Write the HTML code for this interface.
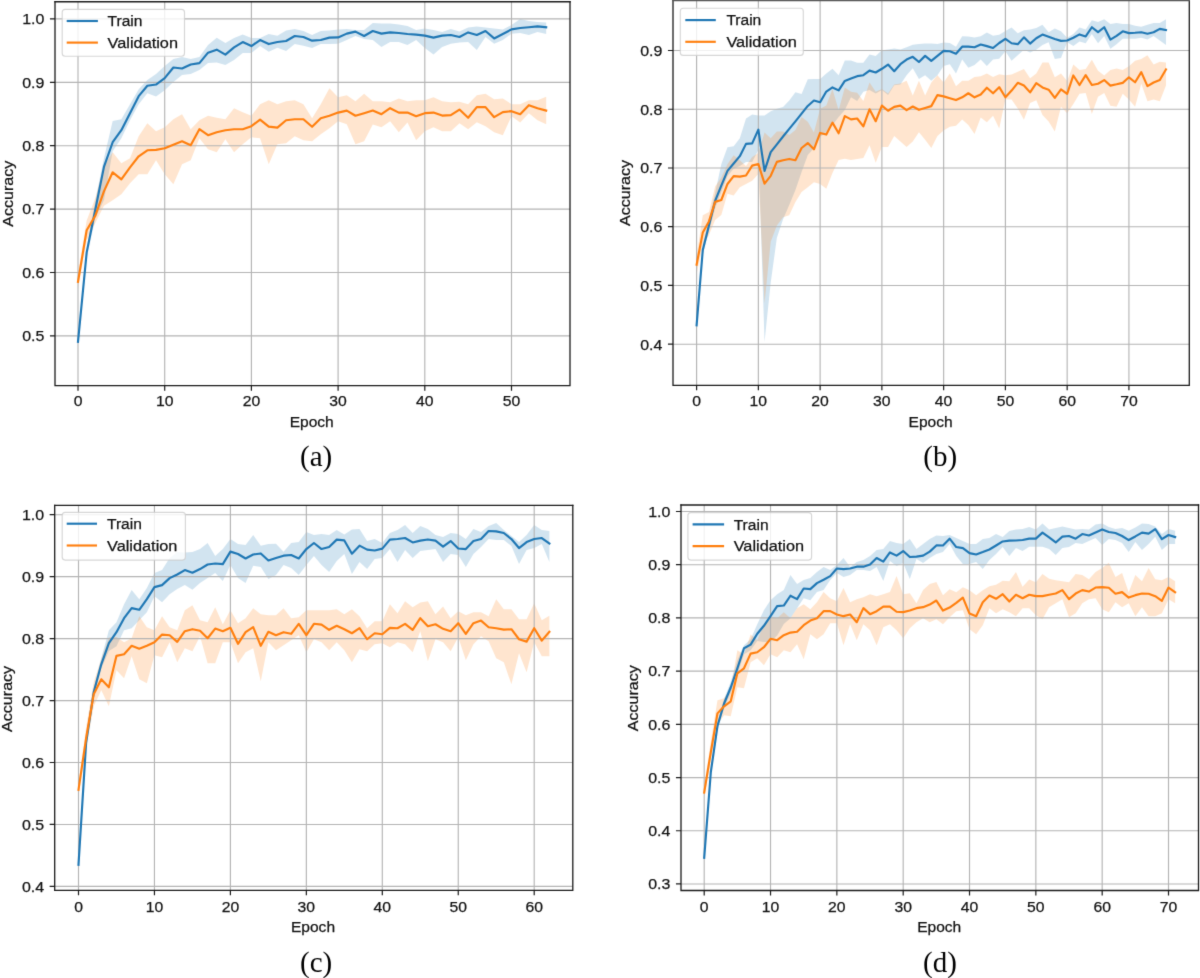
<!DOCTYPE html>
<html><head><meta charset="utf-8"><style>
html,body{margin:0;padding:0;background:#fff;}
body{width:1200px;height:978px;overflow:hidden;}
svg{display:block;}
</style></head><body>
<svg width="1200" height="978" viewBox="0 0 1200 978">
<defs><filter id="bl" x="0" y="0" width="1200" height="978" filterUnits="userSpaceOnUse" color-interpolation-filters="sRGB"><feConvolveMatrix order="3" kernelMatrix="0.0114 0.084 0.0114 0.084 0.619 0.084 0.0114 0.084 0.0114" divisor="1" edgeMode="duplicate" preserveAlpha="true"/></filter></defs>
<rect width="1200" height="978" fill="#fff"/>
<g filter="url(#bl)">
<rect width="1200" height="978" fill="#fff"/>
<clipPath id="clip0"><rect x="55" y="1.75" width="515" height="383.85"/></clipPath>
<g clip-path="url(#clip0)">
<polygon points="78,340 86.67,248 95.34,201 104.01,158 112.68,121 121.35,119.2 130.02,104.17 138.69,89.14 147.36,80.12 156.03,74.11 164.7,66.09 173.37,59.08 182.04,57.07 190.71,59.08 199.38,57.07 208.05,45.05 216.72,37.64 225.39,43.05 234.06,38.04 242.73,34.43 251.4,38.04 260.07,38.04 268.74,34.03 277.41,35.63 286.08,30.42 294.75,29.02 303.42,31.02 312.09,35.03 320.76,31.02 329.43,30.42 338.1,29.62 346.77,29.02 355.44,30.02 364.11,30.02 372.78,23.01 381.45,23.61 390.12,23.61 398.79,24.41 407.46,26.01 416.13,30.02 424.8,28.42 433.47,30.02 442.14,32.02 450.81,29.02 459.48,31.62 468.15,27.62 476.82,26.41 485.49,27.62 494.16,28.42 502.83,29.62 511.5,25.01 520.17,19 528.84,21 537.51,22 546.18,22.4 546.18,34.03 537.51,32.02 528.84,35.03 520.17,33.03 511.5,33.63 502.83,40.04 494.16,43.65 485.49,37.03 476.82,50.06 468.15,42.04 459.48,42.44 450.81,43.65 442.14,47.05 433.47,54.47 424.8,48.06 416.13,40.04 407.46,45.05 398.79,42.04 390.12,42.04 381.45,47.05 372.78,40.04 364.11,39.04 355.44,36.03 346.77,40.04 338.1,43.65 329.43,44.05 320.76,44.05 312.09,48.06 303.42,45.65 294.75,44.05 286.08,51.06 277.41,47.66 268.74,51.66 260.07,46.05 251.4,53.07 242.73,53.07 234.06,60.08 225.39,65.09 216.72,62.48 208.05,63.09 199.38,70.1 190.71,74.11 182.04,75.11 173.37,82.12 164.7,90.14 156.03,96.55 147.36,93.15 138.69,104.17 130.02,120.2 121.35,138.24 112.68,151.26 104.01,200 95.34,218 86.67,258 78,343.5" fill="#1f77b4" fill-opacity="0.2" stroke="none"/>
<polygon points="78,274 86.67,220.5 95.34,198 104.01,166 112.68,152.26 121.35,163.29 130.02,158.28 138.69,136.23 147.36,123.21 156.03,131.22 164.7,127.21 173.37,119.2 182.04,114.19 190.71,129.22 199.38,120.2 208.05,115.79 216.72,117.8 225.39,119.2 234.06,108.18 242.73,112.18 251.4,115.79 260.07,104.17 268.74,100.16 277.41,104.17 286.08,101.16 294.75,100.16 303.42,104.17 312.09,118.2 320.76,104.17 329.43,88.14 338.1,97.15 346.77,95.15 355.44,101.16 364.11,93.75 372.78,101.16 381.45,101.16 390.12,102.16 398.79,98.56 407.46,101.16 416.13,100.16 424.8,100.16 433.47,97.15 442.14,101.16 450.81,102.16 459.48,101.76 468.15,104.17 476.82,95.15 485.49,93.75 494.16,99.16 502.83,98.56 511.5,104.17 520.17,104.17 528.84,100.16 537.51,100.16 546.18,96.75 546.18,124.21 537.51,120.2 528.84,113.19 520.17,122.61 511.5,116.19 502.83,135.23 494.16,132.22 485.49,126.21 476.82,122.2 468.15,129.22 459.48,123.21 450.81,131.22 442.14,131.22 433.47,127.21 424.8,131.22 416.13,140.24 407.46,122.61 398.79,132.22 390.12,121.2 381.45,127.21 372.78,124.61 364.11,141.24 355.44,144.25 346.77,124.21 338.1,121.2 329.43,128.22 320.76,134.23 312.09,141.24 303.42,140.24 294.75,136.23 286.08,143.25 277.41,144.25 268.74,164.29 260.07,138.24 251.4,137.23 242.73,144.25 234.06,152.26 225.39,139.24 216.72,152.26 208.05,149.26 199.38,138.24 190.71,160.28 182.04,164.29 173.37,184.33 164.7,174.31 156.03,160.28 147.36,174.31 138.69,174.31 130.02,183.33 121.35,194.35 112.68,200.36 104.01,205.8 95.34,223 86.67,240 78,289" fill="#ff7f0e" fill-opacity="0.2" stroke="none"/>
<path d="M55 335.9H570M55 272.5H570M55 209.1H570M55 145.7H570M55 82.3H570M55 18.9H570M78 1.75V385.6M164.7 1.75V385.6M251.4 1.75V385.6M338.1 1.75V385.6M424.8 1.75V385.6M511.5 1.75V385.6" stroke="#b4b4b4" stroke-width="1.15" fill="none"/>
<polyline points="78,341.8 86.67,252.4 95.34,209.5 104.01,166.6 112.68,142.24 121.35,130.22 130.02,113.19 138.69,96.15 147.36,85.73 156.03,84.53 164.7,78.12 173.37,67.49 182.04,68.5 190.71,64.49 199.38,63.09 208.05,52.67 216.72,49.66 225.39,54.67 234.06,47.45 242.73,42.04 251.4,46.05 260.07,40.04 268.74,44.05 277.41,42.04 286.08,41.04 294.75,36.03 303.42,37.03 312.09,40.64 320.76,40.04 329.43,37.64 338.1,37.43 346.77,33.63 355.44,31.62 364.11,36.03 372.78,31.02 381.45,33.63 390.12,32.42 398.79,33.03 407.46,34.03 416.13,34.63 424.8,35.63 433.47,37.64 442.14,35.63 450.81,35.03 459.48,37.03 468.15,32.42 476.82,35.03 485.49,31.02 494.16,38.44 502.83,34.03 511.5,29.42 520.17,28.02 528.84,27.21 537.51,26.41 546.18,27.21" fill="none" stroke="#1f77b4" stroke-width="2.15" stroke-linejoin="round" stroke-linecap="square"/>
<polyline points="78,281.8 86.67,230.3 95.34,215.6 104.01,191.1 112.68,172.3 121.35,179.32 130.02,167.29 138.69,156.27 147.36,150.26 156.03,149.86 164.7,148.26 173.37,144.65 182.04,141.24 190.71,145.25 199.38,129.22 208.05,135.23 216.72,132.22 225.39,130.22 234.06,129.22 242.73,129.22 251.4,126.21 260.07,119.6 268.74,126.61 277.41,127.62 286.08,120.2 294.75,119.2 303.42,119.2 312.09,126.81 320.76,118.2 329.43,115.79 338.1,112.59 346.77,110.58 355.44,115.79 364.11,113.19 372.78,110.58 381.45,114.19 390.12,108.18 398.79,112.59 407.46,112.59 416.13,116.19 424.8,113.19 433.47,112.59 442.14,115.59 450.81,115.19 459.48,109.58 468.15,117.8 476.82,107.17 485.49,107.17 494.16,117.19 502.83,112.18 511.5,111.18 520.17,114.19 528.84,105.17 537.51,108.18 546.18,110.58" fill="none" stroke="#ff7f0e" stroke-width="2.15" stroke-linejoin="round" stroke-linecap="square"/>
</g>
<path d="M55 1.75V385.6H570V1.75" fill="none" stroke="#1a1a1a" stroke-width="1.3" stroke-linejoin="miter" stroke-linecap="square"/>
<path d="M55 1.75H570" fill="none" stroke="#1a1a1a" stroke-width="1.3" stroke-linecap="square"/>
<path d="M55 335.9h-5.05M55 272.5h-5.05M55 209.1h-5.05M55 145.7h-5.05M55 82.3h-5.05M55 18.9h-5.05M78 385.6v5.05M164.7 385.6v5.05M251.4 385.6v5.05M338.1 385.6v5.05M424.8 385.6v5.05M511.5 385.6v5.05" stroke="#1a1a1a" stroke-width="1.2" fill="none"/>
<g style="font-family:'Liberation Sans',sans-serif;font-size:15.5px" fill="#111" stroke="#111" stroke-width="0.25"><text x="44.4" y="341.25" text-anchor="end" textLength="22.18" lengthAdjust="spacingAndGlyphs">0.5</text><text x="44.4" y="277.85" text-anchor="end" textLength="22.18" lengthAdjust="spacingAndGlyphs">0.6</text><text x="44.4" y="214.45" text-anchor="end" textLength="22.18" lengthAdjust="spacingAndGlyphs">0.7</text><text x="44.4" y="151.05" text-anchor="end" textLength="22.18" lengthAdjust="spacingAndGlyphs">0.8</text><text x="44.4" y="87.65" text-anchor="end" textLength="22.18" lengthAdjust="spacingAndGlyphs">0.9</text><text x="44.4" y="24.25" text-anchor="end" textLength="22.18" lengthAdjust="spacingAndGlyphs">1.0</text><text x="78" y="406" text-anchor="middle" textLength="8.75" lengthAdjust="spacingAndGlyphs">0</text><text x="164.7" y="406" text-anchor="middle" textLength="17.5" lengthAdjust="spacingAndGlyphs">10</text><text x="251.4" y="406" text-anchor="middle" textLength="17.5" lengthAdjust="spacingAndGlyphs">20</text><text x="338.1" y="406" text-anchor="middle" textLength="17.5" lengthAdjust="spacingAndGlyphs">30</text><text x="424.8" y="406" text-anchor="middle" textLength="17.5" lengthAdjust="spacingAndGlyphs">40</text><text x="511.5" y="406" text-anchor="middle" textLength="17.5" lengthAdjust="spacingAndGlyphs">50</text><text x="311.7" y="426.8" text-anchor="middle" textLength="44.11" lengthAdjust="spacingAndGlyphs">Epoch</text><text transform="translate(12.5,193.7) rotate(-90)" x="0" y="0" text-anchor="middle" textLength="66.01" lengthAdjust="spacingAndGlyphs">Accuracy</text></g>
<rect x="62.2" y="9.3" width="122.3" height="46.9" rx="3" ry="3" fill="#ffffff" fill-opacity="0.8" stroke="#cccccc" stroke-opacity="0.8" stroke-width="1.15"/>
<path d="M66.7 21H97.9" stroke="#1f77b4" stroke-width="2.15"/>
<path d="M66.7 42.6H97.9" stroke="#ff7f0e" stroke-width="2.15"/>
<g style="font-family:'Liberation Sans',sans-serif;font-size:15.5px" fill="#111" stroke="#111" stroke-width="0.25"><text x="107.6" y="25.9" textLength="34.9" lengthAdjust="spacingAndGlyphs">Train</text><text x="107.6" y="47.8" textLength="70.4" lengthAdjust="spacingAndGlyphs">Validation</text></g>
<text x="316.2" y="466" text-anchor="middle" style="font-family:'Liberation Serif',serif;font-size:29.0px" fill="#000">(a)</text>
<clipPath id="clip1"><rect x="673" y="0.6" width="516.3" height="384.7"/></clipPath>
<g clip-path="url(#clip1)">
<polygon points="696.6,323 702.78,245 708.95,219 715.13,193 721.3,164.35 727.48,147.17 733.66,146.35 739.83,138.17 746.01,118.53 752.18,114.44 758.36,115.59 764.54,115.59 770.71,111.17 776.89,108.72 783.06,107.08 789.24,100.54 795.42,92.36 801.59,93.99 807.77,79.27 813.94,78.94 820.12,78.94 826.3,73.54 832.47,68.63 838.65,75.18 844.82,60.45 851,60.49 857.18,62.7 863.35,62.7 869.53,54.6 875.7,55.89 881.88,50.37 888.06,49.45 894.23,48.53 900.41,49.45 906.58,47.24 912.76,44.85 918.94,43.93 925.11,43.56 931.29,43.56 937.46,43.93 943.64,42.46 949.82,43.01 955.99,46.69 962.17,36.2 968.34,36.57 974.52,37.49 980.7,36.2 986.87,32.52 993.05,35.65 999.22,34.72 1005.4,31.04 1011.58,27.61 1017.75,33.13 1023.93,30.37 1030.1,29.45 1036.28,27.98 1042.46,24.85 1048.63,32.21 1054.81,28.53 1060.98,31.29 1067.16,37.73 1073.34,34.05 1079.51,27.61 1085.69,29.45 1091.86,20.25 1098.04,22.09 1104.22,19.33 1110.39,23.93 1116.57,23.01 1122.74,23.93 1128.92,23.93 1135.1,25.77 1141.27,26.69 1147.45,24.85 1153.62,23.01 1159.8,23.01 1165.98,19.33 1165.98,45.09 1159.8,40.49 1153.62,35.89 1147.45,39.57 1141.27,37.73 1135.1,38.65 1128.92,38.65 1122.74,38.65 1116.57,44.17 1110.39,48.78 1104.22,35.89 1098.04,43.25 1091.86,34.05 1085.69,43.25 1079.51,41.41 1073.34,46.02 1067.16,42.33 1060.98,57.98 1054.81,58.9 1048.63,42.33 1042.46,45.09 1036.28,49.7 1030.1,52.46 1023.93,49.7 1017.75,55.22 1011.58,60.74 1005.4,51.29 999.22,58.65 993.05,59.57 986.87,66.02 980.7,59.57 974.52,65.09 968.34,67.86 962.17,59.57 955.99,73.38 949.82,64.17 943.64,66.02 937.46,75.22 931.29,80.74 925.11,75.22 918.94,78.9 912.76,68.22 906.58,75.22 900.41,84.42 894.23,85.34 888.06,95.1 881.88,89.94 875.7,93.62 869.53,89.94 863.35,91.78 857.18,100.99 851,97.31 844.82,110 838.65,117 832.47,125 826.3,132 820.12,137 813.94,148 807.77,155 801.59,172 795.42,190 789.24,205 783.06,219.3 776.89,237.7 770.71,282.7 764.54,342 758.36,150 752.18,162 746.01,162 739.83,166 733.66,168.7 727.48,176 721.3,192 715.13,208 708.95,231 702.78,255 696.6,328" fill="#1f77b4" fill-opacity="0.2" stroke="none"/>
<polygon points="696.6,256 702.78,215.2 708.95,212 715.13,186.6 721.3,177.43 727.48,164.35 733.66,155.35 739.83,160.26 746.01,165.98 752.18,156.98 758.36,152.89 764.54,132.44 770.71,138.17 776.89,131.62 783.06,131.62 789.24,134.9 795.42,129.99 801.59,116.9 807.77,121.81 813.94,132.44 820.12,108.72 826.3,105.45 832.47,89.08 838.65,110.35 844.82,87.45 851,91.78 857.18,92.7 863.35,100.99 869.53,82.58 875.7,91.78 881.88,89.02 888.06,93.62 894.23,84.42 900.41,83.5 906.58,80.74 912.76,95.46 918.94,80.74 925.11,95.46 931.29,82.58 937.46,75.22 943.64,82.58 949.82,73.38 955.99,86.26 962.17,80.74 968.34,80.74 974.52,77.06 980.7,76.14 986.87,73.38 993.05,77.06 999.22,74.3 1005.4,75.22 1011.58,74.54 1017.75,71.78 1023.93,69.02 1030.1,78.23 1036.28,73.62 1042.46,62.58 1048.63,62.58 1054.81,77.31 1060.98,73.62 1067.16,80.99 1073.34,64.42 1079.51,69.94 1085.69,69.02 1091.86,59.82 1098.04,70.86 1104.22,75.46 1110.39,69.94 1116.57,68.47 1122.74,69.94 1128.92,66.26 1135.1,60.74 1141.27,58.9 1147.45,55.22 1153.62,64.42 1159.8,61.66 1165.98,62.58 1165.98,85.59 1159.8,101.23 1153.62,99.39 1147.45,101.23 1141.27,83.75 1135.1,106.76 1128.92,99.39 1122.74,93.87 1116.57,106.76 1110.39,105.83 1104.22,92.95 1098.04,96.63 1091.86,114.12 1085.69,92.95 1079.51,93.87 1073.34,103.99 1067.16,113.2 1060.98,106.76 1054.81,131.6 1048.63,121.48 1042.46,115.04 1036.28,100.31 1030.1,103.07 1023.93,119.64 1017.75,108.6 1011.58,99.39 1005.4,99.15 999.22,128.6 993.05,115.71 986.87,122.15 980.7,117.55 974.52,134.12 968.34,124.91 962.17,119.39 955.99,125.83 949.82,126.76 943.64,130.44 937.46,135.96 931.29,147.92 925.11,139.64 918.94,132.28 912.76,141.48 906.58,147 900.41,141.48 894.23,135.96 888.06,147 881.88,147 875.7,162.65 869.53,145.16 863.35,158.05 857.18,158.97 851,159.89 844.82,158.7 838.65,160.1 832.47,173 826.3,188.8 820.12,184 813.94,182.3 807.77,187.3 801.59,192 795.42,202 789.24,215.2 783.06,217.3 776.89,225.5 770.71,241.8 764.54,303.2 758.36,174 752.18,180.7 746.01,184 739.83,187.3 733.66,195.4 727.48,193.8 721.3,215 715.13,220 708.95,235 702.78,245 696.6,274" fill="#ff7f0e" fill-opacity="0.2" stroke="none"/>
<path d="M673 344.2H1189.3M673 285.46H1189.3M673 226.72H1189.3M673 167.98H1189.3M673 109.24H1189.3M673 50.5H1189.3M696.6 0.6V385.3M758.36 0.6V385.3M820.12 0.6V385.3M881.88 0.6V385.3M943.64 0.6V385.3M1005.4 0.6V385.3M1067.16 0.6V385.3M1128.92 0.6V385.3" stroke="#b4b4b4" stroke-width="1.15" fill="none"/>
<polyline points="696.6,325.3 702.78,250 708.95,225.5 715.13,200.9 721.3,185.62 727.48,170.89 733.66,163.53 739.83,156.16 746.01,143.89 752.18,143.4 758.36,129.66 764.54,170.89 770.71,152.07 776.89,144.38 783.06,136.53 789.24,128.84 795.42,121.32 801.59,113.63 807.77,105.94 813.94,100.54 820.12,102.17 826.3,91.54 832.47,87.45 838.65,90.39 844.82,80.9 851,78.53 857.18,76.14 863.35,75.22 869.53,70.62 875.7,72.46 881.88,68.78 888.06,64.54 894.23,71.17 900.41,64.17 906.58,59.57 912.76,56.81 918.94,61.97 925.11,55.89 931.29,60.86 937.46,55.89 943.64,50.92 949.82,51.29 955.99,53.68 962.17,46.69 968.34,46.69 974.52,47.24 980.7,44.48 986.87,46.14 993.05,47.98 999.22,43.01 1005.4,38.77 1011.58,43.25 1017.75,44.17 1023.93,37.36 1030.1,43.62 1036.28,38.28 1042.46,34.6 1048.63,36.81 1054.81,39.02 1060.98,40.86 1067.16,40.49 1073.34,37.73 1079.51,34.42 1085.69,36.44 1091.86,27.24 1098.04,32.21 1104.22,27.24 1110.39,39.57 1116.57,35.89 1122.74,31.29 1128.92,33.13 1135.1,32.76 1141.27,32.21 1147.45,33.68 1153.62,32.21 1159.8,28.9 1165.98,30" fill="none" stroke="#1f77b4" stroke-width="2.15" stroke-linejoin="round" stroke-linecap="square"/>
<polyline points="696.6,264.7 702.78,232.6 708.95,221.4 715.13,201.9 721.3,200.01 727.48,183.98 733.66,176.13 739.83,176.62 746.01,175.47 752.18,165.65 758.36,164.02 764.54,183.65 770.71,175.8 776.89,161.89 783.06,160.26 789.24,158.95 795.42,160.26 801.59,147.98 807.77,143.08 813.94,149.29 820.12,132.93 826.3,134.57 832.47,122.62 838.65,133.26 844.82,116.08 851,119.39 857.18,118.47 863.35,126.39 869.53,109.27 875.7,121.23 881.88,105.59 888.06,110.74 894.23,106.88 900.41,105.59 906.58,110.19 912.76,106.51 918.94,109.82 925.11,107.98 931.29,106.14 937.46,95.1 943.64,96.39 949.82,98.23 955.99,100.07 962.17,97.31 968.34,93.26 974.52,97.31 980.7,94.54 986.87,87.73 993.05,93.26 999.22,87.18 1005.4,97.31 1011.58,90.56 1017.75,82.83 1023.93,85.59 1030.1,92.4 1036.28,83.2 1042.46,87.43 1048.63,89.64 1054.81,97.92 1060.98,89.27 1067.16,93.87 1073.34,75.46 1079.51,85.04 1085.69,75.1 1091.86,85.04 1098.04,83.75 1104.22,80.07 1110.39,85.59 1116.57,84.3 1122.74,82.83 1128.92,77.31 1135.1,82.27 1141.27,72.15 1147.45,86.14 1153.62,82.46 1159.8,80.07 1165.98,69.39" fill="none" stroke="#ff7f0e" stroke-width="2.15" stroke-linejoin="round" stroke-linecap="square"/>
</g>
<path d="M673 0.6V385.3H1189.3V0.6" fill="none" stroke="#1a1a1a" stroke-width="1.3" stroke-linejoin="miter" stroke-linecap="square"/>
<path d="M673 0.6H1189.3" fill="none" stroke="#5a5a5a" stroke-width="1.3" stroke-linecap="square"/>
<path d="M673 344.2h-5.05M673 285.46h-5.05M673 226.72h-5.05M673 167.98h-5.05M673 109.24h-5.05M673 50.5h-5.05M696.6 385.3v5.05M758.36 385.3v5.05M820.12 385.3v5.05M881.88 385.3v5.05M943.64 385.3v5.05M1005.4 385.3v5.05M1067.16 385.3v5.05M1128.92 385.3v5.05" stroke="#1a1a1a" stroke-width="1.2" fill="none"/>
<g style="font-family:'Liberation Sans',sans-serif;font-size:15.5px" fill="#111" stroke="#111" stroke-width="0.25"><text x="662.4" y="349.55" text-anchor="end" textLength="22.18" lengthAdjust="spacingAndGlyphs">0.4</text><text x="662.4" y="290.81" text-anchor="end" textLength="22.18" lengthAdjust="spacingAndGlyphs">0.5</text><text x="662.4" y="232.07" text-anchor="end" textLength="22.18" lengthAdjust="spacingAndGlyphs">0.6</text><text x="662.4" y="173.33" text-anchor="end" textLength="22.18" lengthAdjust="spacingAndGlyphs">0.7</text><text x="662.4" y="114.59" text-anchor="end" textLength="22.18" lengthAdjust="spacingAndGlyphs">0.8</text><text x="662.4" y="55.85" text-anchor="end" textLength="22.18" lengthAdjust="spacingAndGlyphs">0.9</text><text x="696.6" y="406" text-anchor="middle" textLength="8.75" lengthAdjust="spacingAndGlyphs">0</text><text x="758.36" y="406" text-anchor="middle" textLength="17.5" lengthAdjust="spacingAndGlyphs">10</text><text x="820.12" y="406" text-anchor="middle" textLength="17.5" lengthAdjust="spacingAndGlyphs">20</text><text x="881.88" y="406" text-anchor="middle" textLength="17.5" lengthAdjust="spacingAndGlyphs">30</text><text x="943.64" y="406" text-anchor="middle" textLength="17.5" lengthAdjust="spacingAndGlyphs">40</text><text x="1005.4" y="406" text-anchor="middle" textLength="17.5" lengthAdjust="spacingAndGlyphs">50</text><text x="1067.16" y="406" text-anchor="middle" textLength="17.5" lengthAdjust="spacingAndGlyphs">60</text><text x="1128.92" y="406" text-anchor="middle" textLength="17.5" lengthAdjust="spacingAndGlyphs">70</text><text x="930.6" y="426.8" text-anchor="middle" textLength="44.11" lengthAdjust="spacingAndGlyphs">Epoch</text><text transform="translate(630.4,193) rotate(-90)" x="0" y="0" text-anchor="middle" textLength="66.01" lengthAdjust="spacingAndGlyphs">Accuracy</text></g>
<rect x="680.3" y="8.2" width="123" height="47.2" rx="3" ry="3" fill="#ffffff" fill-opacity="0.8" stroke="#cccccc" stroke-opacity="0.8" stroke-width="1.15"/>
<path d="M685.3 20.1H715.8" stroke="#1f77b4" stroke-width="2.15"/>
<path d="M685.3 41.8H715.8" stroke="#ff7f0e" stroke-width="2.15"/>
<g style="font-family:'Liberation Sans',sans-serif;font-size:15.5px" fill="#111" stroke="#111" stroke-width="0.25"><text x="726.4" y="25.1" textLength="34.9" lengthAdjust="spacingAndGlyphs">Train</text><text x="726.4" y="47.3" textLength="70.4" lengthAdjust="spacingAndGlyphs">Validation</text></g>
<text x="940.2" y="466" text-anchor="middle" style="font-family:'Liberation Serif',serif;font-size:29.0px" fill="#000">(b)</text>
<clipPath id="clip2"><rect x="54.7" y="505.4" width="518.1" height="384.9"/></clipPath>
<g clip-path="url(#clip2)">
<polygon points="78.5,863.5 86.09,739 93.69,688.32 101.28,658.26 108.88,630.2 116.47,622.18 124.07,604.15 131.66,590.12 139.26,599.14 146.86,588.12 154.45,573.09 162.05,570.08 169.64,558.06 177.24,552.04 184.83,552.44 192.43,552.04 200.02,549.04 207.62,543.03 215.21,556.05 222.81,549.04 230.4,539.02 238,544.03 245.59,545.03 253.19,535.01 260.78,545.63 268.38,544.03 275.97,543.63 283.56,551.64 291.16,543.03 298.75,542.02 306.35,532 313.94,535.01 321.54,534.01 329.13,535.03 336.73,530.02 344.32,534.43 351.92,529.62 359.51,529.02 367.11,541.04 374.7,539.04 382.3,543.05 389.89,533.03 397.49,530.02 405.08,525.01 412.68,533.03 420.27,526.01 427.87,529.02 435.46,535.03 443.06,537.03 450.65,533.03 458.25,534.03 465.84,539.04 473.44,529.02 481.03,532.02 488.63,526.01 496.22,523.01 503.82,530.02 511.41,536.03 519.01,542.04 526.61,535.03 534.2,525.01 541.79,530.02 549.39,531.02 549.39,562.08 541.79,544.05 534.2,548.06 526.61,550.06 519.01,564.09 511.41,546.05 503.82,540.04 496.22,540.04 488.63,539.04 481.03,547.05 473.44,554.07 465.84,567.09 458.25,555.07 450.65,554.07 443.06,562.08 435.46,549.06 427.87,550.06 420.27,551.06 412.68,558.08 405.08,550.06 397.49,562.08 389.89,549.06 382.3,558.08 374.7,559.08 367.11,569.1 359.51,562.08 351.92,574.11 344.32,554.07 336.73,561.08 329.13,572.1 321.54,565.07 313.94,556.05 306.35,565.07 298.75,575.09 291.16,568.08 283.56,565.07 275.97,575.09 268.38,579.1 260.78,567.07 253.19,565.67 245.59,583.11 238,578.1 230.4,565.07 222.81,581.1 215.21,573.09 207.62,578.1 200.02,583.11 192.43,589.72 184.83,585.11 177.24,589.12 169.64,594.13 162.05,602.14 154.45,596.13 146.86,612.16 139.26,620.18 131.66,628.2 124.07,630.2 116.47,646.23 108.88,651.04 101.28,668.28 93.69,696.33 86.09,747 78.5,866" fill="#1f77b4" fill-opacity="0.2" stroke="none"/>
<polygon points="78.5,784 86.09,728 93.69,682.3 101.28,659.06 108.88,637.41 116.47,637.01 124.07,642.22 131.66,638.22 139.26,616.17 146.86,627.19 154.45,630.2 162.05,616.17 169.64,627.19 177.24,630.2 184.83,610.16 192.43,605.15 200.02,620.18 207.62,622.18 215.21,607.15 222.81,624.19 230.4,610.16 238,623.19 245.59,618.18 253.19,608.16 260.78,614.17 268.38,615.17 275.97,615.17 283.56,608.16 291.16,618.18 298.75,617.17 306.35,610.16 313.94,610.16 321.54,610.16 329.13,610.18 336.73,609.18 344.32,614.19 351.92,609.18 359.51,616.19 367.11,628.22 374.7,621.2 382.3,621.2 389.89,604.17 397.49,613.19 405.08,601.16 412.68,607.17 420.27,602.57 427.87,601.16 435.46,614.19 443.06,606.57 450.65,618.2 458.25,611.18 465.84,615.19 473.44,612.18 481.03,612.18 488.63,616.19 496.22,599.16 503.82,609.18 511.41,609.18 519.01,619.2 526.61,619.2 534.2,603.17 541.79,620.2 549.39,615.79 549.39,656.27 541.79,656.27 534.2,642.24 526.61,672.3 519.01,653.27 511.41,684.33 503.82,662.28 496.22,658.28 488.63,641.24 481.03,636.23 473.44,644.25 465.84,660.28 458.25,637.23 450.65,651.26 443.06,642.24 435.46,639.24 427.87,661.28 420.27,631.22 412.68,652.26 405.08,644.25 397.49,642.24 389.89,647.25 382.3,643.25 374.7,644.25 367.11,651.26 359.51,649.26 351.92,662.28 344.32,650.26 336.73,642.24 329.13,650.26 321.54,642.22 313.94,639.22 306.35,652.24 298.75,635.21 291.16,640.22 283.56,645.23 275.97,650.24 268.38,642.22 260.78,681.3 253.19,648.24 245.59,652.24 238,663.27 230.4,642.22 222.81,642.22 215.21,663.27 207.62,663.27 200.02,636.21 192.43,651.24 184.83,648.24 177.24,662.26 169.64,642.22 162.05,657.25 154.45,655.25 146.86,683.31 139.26,679.3 131.66,656.25 124.07,678.3 116.47,670.28 108.88,706.35 101.28,690.32 93.69,706.35 86.09,748 78.5,796" fill="#ff7f0e" fill-opacity="0.2" stroke="none"/>
<path d="M54.7 886.4H572.8M54.7 824.45H572.8M54.7 762.5H572.8M54.7 700.55H572.8M54.7 638.6H572.8M54.7 576.65H572.8M54.7 514.7H572.8M78.5 505.4V890.3M154.45 505.4V890.3M230.4 505.4V890.3M306.35 505.4V890.3M382.3 505.4V890.3M458.25 505.4V890.3M534.2 505.4V890.3" stroke="#b4b4b4" stroke-width="1.15" fill="none"/>
<polyline points="78.5,864.8 86.09,743.2 93.69,692.32 101.28,664.27 108.88,643.23 116.47,632.2 124.07,618.18 131.66,608.16 139.26,609.76 146.86,599.14 154.45,587.11 162.05,585.11 169.64,578.1 177.24,574.49 184.83,570.08 192.43,572.69 200.02,569.08 207.62,564.47 215.21,563.47 222.81,564.07 230.4,551.64 238,554.05 245.59,558.46 253.19,554.45 260.78,553.45 268.38,560.46 275.97,558.06 283.56,555.65 291.16,555.05 298.75,558.46 306.35,549.04 313.94,543.03 321.54,549.04 329.13,547.05 336.73,539.64 344.32,540.44 351.92,553.67 359.51,545.65 367.11,549.66 374.7,550.46 382.3,548.66 389.89,539.64 397.49,539.04 405.08,538.04 412.68,542.44 420.27,540.64 427.87,539.44 435.46,540.64 443.06,546.65 450.65,541.04 458.25,548.46 465.84,549.06 473.44,541.04 481.03,539.04 488.63,531.02 496.22,531.42 503.82,533.03 511.41,539.04 519.01,548.06 526.61,542.04 534.2,539.04 541.79,538.04 549.39,543.45" fill="none" stroke="#1f77b4" stroke-width="2.15" stroke-linejoin="round" stroke-linecap="square"/>
<polyline points="78.5,789.9 86.09,738.3 93.69,694.33 101.28,679.3 108.88,687.31 116.47,655.85 124.07,654.25 131.66,645.83 139.26,648.64 146.86,645.83 154.45,642.22 162.05,634.61 169.64,635.21 177.24,641.82 184.83,631.2 192.43,629.2 200.02,630.8 207.62,638.22 215.21,628.6 222.81,631.2 230.4,627.8 238,643.83 245.59,632.2 253.19,627.19 260.78,645.83 268.38,631.8 275.97,635.21 283.56,632.2 291.16,633.81 298.75,623.79 306.35,635.21 313.94,623.79 321.54,624.59 329.13,629.82 336.73,625.81 344.32,629.22 351.92,633.23 359.51,628.22 367.11,639.24 374.7,633.23 382.3,634.23 389.89,627.82 397.49,628.22 405.08,623.81 412.68,629.82 420.27,618.2 427.87,626.21 435.46,624.21 443.06,628.82 450.65,631.22 458.25,623.21 465.84,633.83 473.44,623.21 481.03,620.6 488.63,627.21 496.22,628.22 503.82,629.62 511.41,629.22 519.01,639.24 526.61,641.64 534.2,628.22 541.79,640.64 549.39,631.82" fill="none" stroke="#ff7f0e" stroke-width="2.15" stroke-linejoin="round" stroke-linecap="square"/>
</g>
<path d="M54.7 505.4V890.3H572.8V505.4" fill="none" stroke="#1a1a1a" stroke-width="1.3" stroke-linejoin="miter" stroke-linecap="square"/>
<path d="M54.7 505.4H572.8" fill="none" stroke="#1a1a1a" stroke-width="1.3" stroke-linecap="square"/>
<path d="M54.7 886.4h-5.05M54.7 824.45h-5.05M54.7 762.5h-5.05M54.7 700.55h-5.05M54.7 638.6h-5.05M54.7 576.65h-5.05M54.7 514.7h-5.05M78.5 890.3v5.05M154.45 890.3v5.05M230.4 890.3v5.05M306.35 890.3v5.05M382.3 890.3v5.05M458.25 890.3v5.05M534.2 890.3v5.05" stroke="#1a1a1a" stroke-width="1.2" fill="none"/>
<g style="font-family:'Liberation Sans',sans-serif;font-size:15.5px" fill="#111" stroke="#111" stroke-width="0.25"><text x="44.1" y="891.75" text-anchor="end" textLength="22.18" lengthAdjust="spacingAndGlyphs">0.4</text><text x="44.1" y="829.8" text-anchor="end" textLength="22.18" lengthAdjust="spacingAndGlyphs">0.5</text><text x="44.1" y="767.85" text-anchor="end" textLength="22.18" lengthAdjust="spacingAndGlyphs">0.6</text><text x="44.1" y="705.9" text-anchor="end" textLength="22.18" lengthAdjust="spacingAndGlyphs">0.7</text><text x="44.1" y="643.95" text-anchor="end" textLength="22.18" lengthAdjust="spacingAndGlyphs">0.8</text><text x="44.1" y="582" text-anchor="end" textLength="22.18" lengthAdjust="spacingAndGlyphs">0.9</text><text x="44.1" y="520.05" text-anchor="end" textLength="22.18" lengthAdjust="spacingAndGlyphs">1.0</text><text x="78.5" y="911.6" text-anchor="middle" textLength="8.75" lengthAdjust="spacingAndGlyphs">0</text><text x="154.45" y="911.6" text-anchor="middle" textLength="17.5" lengthAdjust="spacingAndGlyphs">10</text><text x="230.4" y="911.6" text-anchor="middle" textLength="17.5" lengthAdjust="spacingAndGlyphs">20</text><text x="306.35" y="911.6" text-anchor="middle" textLength="17.5" lengthAdjust="spacingAndGlyphs">30</text><text x="382.3" y="911.6" text-anchor="middle" textLength="17.5" lengthAdjust="spacingAndGlyphs">40</text><text x="458.25" y="911.6" text-anchor="middle" textLength="17.5" lengthAdjust="spacingAndGlyphs">50</text><text x="534.2" y="911.6" text-anchor="middle" textLength="17.5" lengthAdjust="spacingAndGlyphs">60</text><text x="313" y="932" text-anchor="middle" textLength="44.11" lengthAdjust="spacingAndGlyphs">Epoch</text><text transform="translate(12,698.9) rotate(-90)" x="0" y="0" text-anchor="middle" textLength="66.01" lengthAdjust="spacingAndGlyphs">Accuracy</text></g>
<rect x="62.2" y="512.3" width="123.2" height="47.8" rx="3" ry="3" fill="#ffffff" fill-opacity="0.8" stroke="#cccccc" stroke-opacity="0.8" stroke-width="1.15"/>
<path d="M66.7 523.7H97" stroke="#1f77b4" stroke-width="2.15"/>
<path d="M66.7 545.5H97" stroke="#ff7f0e" stroke-width="2.15"/>
<g style="font-family:'Liberation Sans',sans-serif;font-size:15.5px" fill="#111" stroke="#111" stroke-width="0.25"><text x="107" y="528.6" textLength="34.9" lengthAdjust="spacingAndGlyphs">Train</text><text x="107" y="550.8" textLength="70.4" lengthAdjust="spacingAndGlyphs">Validation</text></g>
<text x="316.1" y="971.7" text-anchor="middle" style="font-family:'Liberation Serif',serif;font-size:29.0px" fill="#000">(c)</text>
<clipPath id="clip3"><rect x="681" y="505" width="517.5" height="385.5"/></clipPath>
<g clip-path="url(#clip3)">
<polygon points="704.2,856.5 710.83,769 717.47,722 724.1,699 730.73,682 737.37,660.26 744,645.23 750.63,639.22 757.26,624.19 763.9,610.16 770.53,600.14 777.16,594.13 783.8,590.12 790.43,575.09 797.06,584.11 803.7,580.1 810.33,578.1 816.96,572.08 823.59,567.07 830.23,570.08 836.86,565.07 843.49,558.06 850.13,567.07 856.76,562.06 863.39,560.06 870.03,556.05 876.66,550.04 883.29,549.04 889.92,541.02 896.56,543.03 903.19,544.03 909.82,539.02 916.46,549.04 923.09,544.03 929.72,539.02 936.36,535.61 942.99,536.04 949.62,535.04 956.25,538.05 962.89,541.05 969.52,544.06 976.15,544.06 982.79,539.05 989.42,538.05 996.05,534.04 1002.69,537.04 1009.32,531.03 1015.95,529.43 1022.58,529.03 1029.22,527.02 1035.85,529.43 1042.48,523.42 1049.12,529.43 1055.75,528.03 1062.38,526.62 1069.02,528.03 1075.65,529.43 1082.28,529.03 1088.91,529.43 1095.55,524.62 1102.18,523.42 1108.81,527.02 1115.45,529.03 1122.08,528.03 1128.71,530.63 1135.35,527.42 1141.98,523.42 1148.61,524.02 1155.24,526.62 1161.88,534.04 1168.51,529.03 1175.14,530.63 1175.14,544.06 1168.51,544.06 1161.88,550.07 1155.24,536.64 1148.61,544.06 1141.98,550.07 1135.35,542.05 1128.71,552.07 1122.08,543.06 1115.45,540.05 1108.81,539.05 1102.18,545.06 1095.55,538.05 1088.91,541.05 1082.28,544.06 1075.65,543.06 1069.02,547.06 1062.38,548.07 1055.75,555.08 1049.12,549.07 1042.48,546.66 1035.85,546.66 1029.22,546.66 1022.58,551.07 1015.95,548.07 1009.32,556.08 1002.69,547.06 996.05,554.08 989.42,560.09 982.79,569.11 976.15,562.09 969.52,564.1 962.89,564.1 956.25,556.08 949.62,544.06 942.99,552.07 936.36,554.05 929.72,558.06 923.09,563.07 916.46,559.06 909.82,579.1 903.19,563.07 896.56,566.07 889.92,561.06 883.29,581.1 876.66,567.07 870.03,571.08 863.39,570.08 856.76,570.08 850.13,575.09 843.49,577.09 836.86,573.09 830.23,580.1 823.59,590.12 816.96,592.12 810.33,600.14 803.7,598.14 797.06,608.16 790.43,618.18 783.8,623.99 777.16,635.41 770.53,642.02 763.9,642.02 757.26,641.02 750.63,650.24 744,654.25 737.37,674.29 730.73,693 724.1,708 717.47,730 710.83,775 704.2,859" fill="#1f77b4" fill-opacity="0.2" stroke="none"/>
<polygon points="704.2,786 710.83,742 717.47,700.34 724.1,698.34 730.73,688.32 737.37,650.24 744,654.25 750.63,634.41 757.26,640.22 763.9,623.99 770.53,616.17 777.16,618.18 783.8,612.16 790.43,618.18 797.06,608.16 803.7,604.15 810.33,609.16 816.96,602.14 823.59,592.12 830.23,598.14 836.86,601.14 843.49,588.12 850.13,602.14 856.76,599.14 863.39,597.13 870.03,594.13 876.66,596.13 883.29,594.13 889.92,592.12 896.56,576.09 903.19,594.13 909.82,593.13 916.46,603.15 923.09,590.12 929.72,584.11 936.36,582.1 942.99,595.16 949.62,589.15 956.25,592.15 962.89,587.14 969.52,590.15 976.15,595.16 982.79,590.15 989.42,586.14 996.05,584.74 1002.69,580.73 1009.32,581.13 1015.95,572.11 1022.58,586.74 1029.22,579.53 1035.85,582.13 1042.48,574.12 1049.12,578.73 1055.75,580.13 1062.38,581.13 1069.02,582.13 1075.65,574.12 1082.28,575.12 1088.91,579.13 1095.55,572.11 1102.18,568.11 1108.81,562.7 1115.45,577.12 1122.08,573.12 1128.71,592.15 1135.35,575.12 1141.98,581.13 1148.61,568.11 1155.24,579.13 1161.88,580.13 1168.51,577.12 1175.14,581.13 1175.14,603.18 1168.51,599.17 1161.88,613.2 1155.24,616.2 1148.61,616.2 1141.98,607.18 1135.35,616.2 1128.71,603.18 1122.08,607.18 1115.45,602.17 1108.81,612.19 1102.18,609.19 1095.55,598.17 1088.91,599.17 1082.28,603.18 1075.65,613.2 1069.02,617.2 1062.38,599.17 1055.75,603.18 1049.12,607.18 1042.48,619.21 1035.85,615.2 1029.22,608.19 1022.58,608.19 1015.95,616.2 1009.32,612.19 1002.69,609.19 996.05,613.2 989.42,608.19 982.79,625.22 976.15,634.24 969.52,629.23 962.89,610.19 956.25,611.19 949.62,617.2 942.99,624.22 936.36,619.18 929.72,622.18 923.09,618.18 916.46,622.18 909.82,628.2 903.19,638.22 896.56,630.2 889.92,624.19 883.29,627.19 876.66,645.23 870.03,630.2 863.39,624.19 856.76,640.22 850.13,624.19 843.49,645.23 836.86,623.19 830.23,623.19 823.59,634.21 816.96,639.22 810.33,634.21 803.7,659.26 797.06,644.23 790.43,652.24 783.8,650.24 777.16,657.25 770.53,654.25 763.9,665.27 757.26,658.26 750.63,662.26 744,688.32 737.37,687.31 730.73,716.37 724.1,715.37 717.47,724.39 710.83,760 704.2,798" fill="#ff7f0e" fill-opacity="0.2" stroke="none"/>
<path d="M681 883.97H1198.5M681 830.76H1198.5M681 777.55H1198.5M681 724.34H1198.5M681 671.13H1198.5M681 617.92H1198.5M681 564.71H1198.5M681 511.5H1198.5M704.2 505V890.5M770.53 505V890.5M836.86 505V890.5M903.19 505V890.5M969.52 505V890.5M1035.85 505V890.5M1102.18 505V890.5M1168.51 505V890.5" stroke="#b4b4b4" stroke-width="1.15" fill="none"/>
<polyline points="704.2,857.8 710.83,772 717.47,726 724.1,703.5 730.73,687.5 737.37,668.28 744,648.24 750.63,644.63 757.26,633.81 763.9,625.79 770.53,616.17 777.16,606.15 783.8,605.55 790.43,595.73 797.06,599.14 803.7,588.52 810.33,589.12 816.96,583.11 823.59,579.7 830.23,576.09 836.86,568.48 843.49,569.08 850.13,568.48 856.76,566.67 863.39,566.67 870.03,564.47 876.66,558.06 883.29,561.66 889.92,552.44 896.56,555.65 903.19,551.04 909.82,557.05 916.46,556.65 923.09,555.65 929.72,551.64 936.36,545.43 942.99,545.46 949.62,538.65 956.25,547.06 962.89,548.07 969.52,553.08 976.15,554.48 982.79,552.07 989.42,549.47 996.05,545.46 1002.69,541.45 1009.32,540.65 1015.95,540.45 1022.58,540.05 1029.22,538.65 1035.85,538.65 1042.48,532.64 1049.12,537.44 1055.75,542.45 1062.38,536.64 1069.02,536.04 1075.65,538.65 1082.28,534.04 1088.91,535.44 1095.55,532.43 1102.18,529.43 1108.81,532.03 1115.45,533.04 1122.08,536.04 1128.71,540.05 1135.35,536.44 1141.98,532.64 1148.61,533.64 1155.24,529.03 1161.88,539.05 1168.51,535.04 1175.14,537.04" fill="none" stroke="#1f77b4" stroke-width="2.15" stroke-linejoin="round" stroke-linecap="square"/>
<polyline points="704.2,792.6 710.83,752.1 717.47,713.37 724.1,706.35 730.73,701.34 737.37,673.29 744,668.28 750.63,653.65 757.26,652.24 763.9,647.23 770.53,638.82 777.16,640.22 783.8,635.21 790.43,632.61 797.06,631.8 803.7,625.19 810.33,620.58 816.96,618.18 823.59,611.16 830.23,611.16 836.86,614.57 843.49,616.17 850.13,614.57 856.76,622.18 863.39,608.16 870.03,614.17 876.66,611.16 883.29,606.55 889.92,606.55 896.56,611.76 903.19,612.16 909.82,610.56 916.46,608.16 923.09,607.15 929.72,604.55 936.36,600.54 942.99,610.59 949.62,607.59 956.25,602.78 962.89,597.57 969.52,613.6 976.15,616.2 982.79,602.17 989.42,595.56 996.05,598.77 1002.69,594.16 1009.32,601.57 1015.95,594.76 1022.58,598.17 1029.22,594.76 1035.85,596.16 1042.48,596.16 1049.12,594.76 1055.75,593.56 1062.38,590.15 1069.02,599.17 1075.65,593.56 1082.28,590.15 1088.91,591.55 1095.55,587.55 1102.18,587.14 1108.81,587.75 1115.45,593.76 1122.08,592.15 1128.71,597.57 1135.35,595.16 1141.98,593.56 1148.61,593.76 1155.24,596.16 1161.88,600.77 1168.51,587.55 1175.14,592.15" fill="none" stroke="#ff7f0e" stroke-width="2.15" stroke-linejoin="round" stroke-linecap="square"/>
</g>
<path d="M681 505V890.5H1198.5V505" fill="none" stroke="#1a1a1a" stroke-width="1.3" stroke-linejoin="miter" stroke-linecap="square"/>
<path d="M681 505H1198.5" fill="none" stroke="#1a1a1a" stroke-width="1.3" stroke-linecap="square"/>
<path d="M681 883.97h-5.05M681 830.76h-5.05M681 777.55h-5.05M681 724.34h-5.05M681 671.13h-5.05M681 617.92h-5.05M681 564.71h-5.05M681 511.5h-5.05M704.2 890.5v5.05M770.53 890.5v5.05M836.86 890.5v5.05M903.19 890.5v5.05M969.52 890.5v5.05M1035.85 890.5v5.05M1102.18 890.5v5.05M1168.51 890.5v5.05" stroke="#1a1a1a" stroke-width="1.2" fill="none"/>
<g style="font-family:'Liberation Sans',sans-serif;font-size:15.5px" fill="#111" stroke="#111" stroke-width="0.25"><text x="670.4" y="889.32" text-anchor="end" textLength="22.18" lengthAdjust="spacingAndGlyphs">0.3</text><text x="670.4" y="836.11" text-anchor="end" textLength="22.18" lengthAdjust="spacingAndGlyphs">0.4</text><text x="670.4" y="782.9" text-anchor="end" textLength="22.18" lengthAdjust="spacingAndGlyphs">0.5</text><text x="670.4" y="729.69" text-anchor="end" textLength="22.18" lengthAdjust="spacingAndGlyphs">0.6</text><text x="670.4" y="676.48" text-anchor="end" textLength="22.18" lengthAdjust="spacingAndGlyphs">0.7</text><text x="670.4" y="623.27" text-anchor="end" textLength="22.18" lengthAdjust="spacingAndGlyphs">0.8</text><text x="670.4" y="570.06" text-anchor="end" textLength="22.18" lengthAdjust="spacingAndGlyphs">0.9</text><text x="670.4" y="516.85" text-anchor="end" textLength="22.18" lengthAdjust="spacingAndGlyphs">1.0</text><text x="704.2" y="911.6" text-anchor="middle" textLength="8.75" lengthAdjust="spacingAndGlyphs">0</text><text x="770.53" y="911.6" text-anchor="middle" textLength="17.5" lengthAdjust="spacingAndGlyphs">10</text><text x="836.86" y="911.6" text-anchor="middle" textLength="17.5" lengthAdjust="spacingAndGlyphs">20</text><text x="903.19" y="911.6" text-anchor="middle" textLength="17.5" lengthAdjust="spacingAndGlyphs">30</text><text x="969.52" y="911.6" text-anchor="middle" textLength="17.5" lengthAdjust="spacingAndGlyphs">40</text><text x="1035.85" y="911.6" text-anchor="middle" textLength="17.5" lengthAdjust="spacingAndGlyphs">50</text><text x="1102.18" y="911.6" text-anchor="middle" textLength="17.5" lengthAdjust="spacingAndGlyphs">60</text><text x="1168.51" y="911.6" text-anchor="middle" textLength="17.5" lengthAdjust="spacingAndGlyphs">70</text><text x="939.2" y="932.3" text-anchor="middle" textLength="44.11" lengthAdjust="spacingAndGlyphs">Epoch</text><text transform="translate(638.3,698.3) rotate(-90)" x="0" y="0" text-anchor="middle" textLength="66.01" lengthAdjust="spacingAndGlyphs">Accuracy</text></g>
<rect x="687.9" y="512.6" width="123.7" height="47.5" rx="3" ry="3" fill="#ffffff" fill-opacity="0.8" stroke="#cccccc" stroke-opacity="0.8" stroke-width="1.15"/>
<path d="M692.6 524.3H724.1" stroke="#1f77b4" stroke-width="2.15"/>
<path d="M692.6 546.1H724.1" stroke="#ff7f0e" stroke-width="2.15"/>
<g style="font-family:'Liberation Sans',sans-serif;font-size:15.5px" fill="#111" stroke="#111" stroke-width="0.25"><text x="733.7" y="529.8" textLength="34.9" lengthAdjust="spacingAndGlyphs">Train</text><text x="733.7" y="551.3" textLength="70.4" lengthAdjust="spacingAndGlyphs">Validation</text></g>
<text x="939.9" y="971.7" text-anchor="middle" style="font-family:'Liberation Serif',serif;font-size:29.0px" fill="#000">(d)</text>
</g>
</svg>
</body></html>
